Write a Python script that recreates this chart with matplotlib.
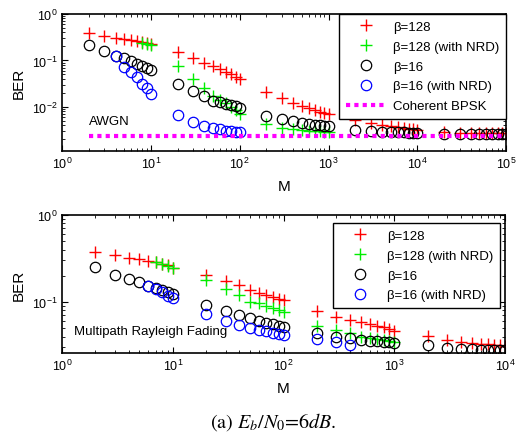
import matplotlib
matplotlib.use("Agg")
import matplotlib.pyplot as plt

plt.rcParams['font.family'] = ['Liberation Sans', 'DejaVu Sans']

# M values, grouped by decade
m1 = [2, 3, 4, 5, 6, 7, 8, 9, 10]
m2 = [20, 30, 40, 50, 60, 70, 80, 90, 100]
m3 = [200, 300, 400, 500, 600, 700, 800, 900, 1000]
m4 = [2000, 3000, 4000, 5000, 6000, 7000, 8000, 9000, 10000]
m5 = [20000, 30000, 40000, 50000, 60000, 70000, 80000, 90000, 100000]

# ---- AWGN (top) ----
awgn_red_m = m1 + m2 + m3 + m4 + m5
awgn_red = [0.38, 0.34, 0.31, 0.29, 0.275, 0.26, 0.25, 0.24, 0.23,
            0.15, 0.11, 0.088, 0.074, 0.064, 0.056, 0.050, 0.045, 0.040,
            0.021, 0.0154, 0.012, 0.0107, 0.0093, 0.0085, 0.0078, 0.0073, 0.0071,
            0.0051, 0.0046, 0.0041, 0.0039, 0.0037, 0.0035, 0.0034, 0.0033, 0.0032,
            0.00285, 0.0028, 0.00278, 0.00276, 0.00275, 0.00274, 0.00273, 0.00272, 0.00271]
awgn_green_m = [8, 9, 10] + m2 + m3
awgn_green = [0.235, 0.225, 0.215,
              0.077, 0.039, 0.026, 0.017, 0.014, 0.012, 0.010, 0.0085, 0.0072,
              0.0043, 0.0036, 0.0034, 0.0032, 0.0031, 0.0030, 0.0030, 0.0029, 0.0029]
awgn_black_m = m1 + m2 + m3 + m4 + m5
awgn_black = [0.215, 0.158, 0.127, 0.111, 0.099, 0.084, 0.075, 0.068, 0.062,
              0.031, 0.0224, 0.017, 0.0137, 0.0125, 0.0115, 0.011, 0.0102, 0.0095,
              0.0063, 0.0055, 0.0050, 0.0046, 0.0043, 0.0041, 0.0040, 0.0039, 0.0038,
              0.0032, 0.0031, 0.0029, 0.0029, 0.00285, 0.00283, 0.0028, 0.0028, 0.0028,
              0.0026, 0.0026, 0.0026, 0.0026, 0.0026, 0.0026, 0.0026, 0.0026, 0.0026]
awgn_blue_m = [4, 5, 6, 7, 8, 9, 10] + m2
awgn_blue = [0.127, 0.071, 0.056, 0.043, 0.031, 0.025, 0.019,
             0.0067, 0.0047, 0.0038, 0.0036, 0.0033, 0.0031, 0.0030, 0.0029, 0.0029]
bpsk_m = [2, 100000]
bpsk_ber = [0.00239, 0.00239]

# ---- Multipath Rayleigh fading (bottom) ----
ray_red_m = m1 + m2 + m3 + m4
ray_red = [0.375, 0.343, 0.323, 0.31, 0.296, 0.285, 0.275, 0.265, 0.247,
           0.203, 0.172, 0.156, 0.137, 0.127, 0.12, 0.114, 0.109, 0.105,
           0.078, 0.068, 0.0615, 0.059, 0.056, 0.0535, 0.051, 0.049, 0.0466,
           0.041, 0.037, 0.035, 0.034, 0.033, 0.0325, 0.032, 0.0318, 0.0315]
ray_green_m = [7, 8, 9, 10] + m2 + m3
ray_green = [0.285, 0.275, 0.262, 0.245,
             0.178, 0.14, 0.119, 0.101, 0.096, 0.091, 0.085, 0.080, 0.076,
             0.053, 0.047, 0.0445, 0.040, 0.039, 0.038, 0.037, 0.036, 0.035]
ray_black_m = m1 + m2 + m3 + m4
ray_black = [0.249, 0.202, 0.186, 0.168, 0.154, 0.143, 0.137, 0.130, 0.124,
             0.092, 0.079, 0.071, 0.065, 0.0607, 0.058, 0.056, 0.053, 0.0515,
             0.044, 0.040, 0.039, 0.037, 0.036, 0.0355, 0.035, 0.0345, 0.034,
             0.032, 0.0292, 0.029, 0.0285, 0.0282, 0.028, 0.0279, 0.0278, 0.0277]
ray_blue_m = [6, 7, 8, 9, 10] + m2 + [200, 300, 400]
ray_blue = [0.152, 0.142, 0.130, 0.118, 0.110,
            0.072, 0.061, 0.054, 0.050, 0.048, 0.046, 0.044, 0.043, 0.042,
            0.038, 0.0346, 0.032]

labels = ['\u03b2=128', '\u03b2=128 (with NRD)', '\u03b2=16', '\u03b2=16 (with NRD)']

fig = plt.figure(figsize=(5.17, 4.39), dpi=100)
ax1 = fig.add_axes([0.120, 0.654, 0.859, 0.312])
ax2 = fig.add_axes([0.120, 0.194, 0.857, 0.314])

def draw(ax, red, green, black, blue):
    ax.plot(red[0], red[1], '+', color='red', ms=8, mew=1, label=labels[0])
    ax.plot(green[0], green[1], '+', color='#00ee00', ms=8, mew=1, label=labels[1])
    ax.plot(black[0], black[1], 'o', mfc='none', mec='black', ms=7.5, mew=0.9, label=labels[2])
    ax.plot(blue[0], blue[1], 'o', mfc='none', mec='blue', ms=7.5, mew=0.9, label=labels[3])

draw(ax1, (awgn_red_m, awgn_red), (awgn_green_m, awgn_green),
     (awgn_black_m, awgn_black), (awgn_blue_m, awgn_blue))
ax1.plot(bpsk_m, bpsk_ber, color='magenta', lw=3, dashes=(1, 1),
         solid_capstyle='butt', dash_capstyle='butt', label='Coherent BPSK')
draw(ax2, (ray_red_m, ray_red), (ray_green_m, ray_green),
     (ray_black_m, ray_black), (ray_blue_m, ray_blue))

for ax in (ax1, ax2):
    ax.set_xscale('log')
    ax.set_yscale('log')
    ax.tick_params(which='both', direction='in', top=True, right=True, labelsize=9)
    ax.tick_params(which='major', length=4)
    ax.tick_params(which='minor', length=2)
    for s in ax.spines.values():
        s.set_linewidth(1.2)
    ax.set_ylabel('BER', fontsize=11)
    ax.set_xlabel('M', fontsize=11, labelpad=6)

ax1.set_xlim(1, 1e5)
ax1.set_ylim(1.13e-3, 1)
ax1.set_yticks([1e-2, 1e-1, 1])
ax2.set_xlim(1, 1e4)
ax2.set_ylim(0.026, 1)
ax2.set_yticks([0.1, 1])

ax1.text(2.0, 5.0e-3, 'AWGN', fontsize=9.5, va='center')
ax2.text(1.28, 0.046, 'Multipath Rayleigh Fading', fontsize=9.5, va='center')

leg_kw = dict(fontsize=9.5, fancybox=False, edgecolor='black', framealpha=1,
              handlelength=3.1, handletextpad=0.5, labelspacing=0.58,
              borderpad=0.5, borderaxespad=0, loc='upper right')
l1 = ax1.legend(bbox_to_anchor=(1.0, 1.0), **leg_kw)
l2 = ax2.legend(bbox_to_anchor=(0.9887, 0.942), **leg_kw)
for l in (l1, l2):
    l.get_frame().set_linewidth(1.0)

fig.text(0.528, 0.039, r'(a) $E_b/N_0$=6$dB$.', ha='center', va='center',
         fontsize=14.5, family='STIXGeneral', math_fontfamily='stix')

fig.savefig('out.png', dpi=100)
